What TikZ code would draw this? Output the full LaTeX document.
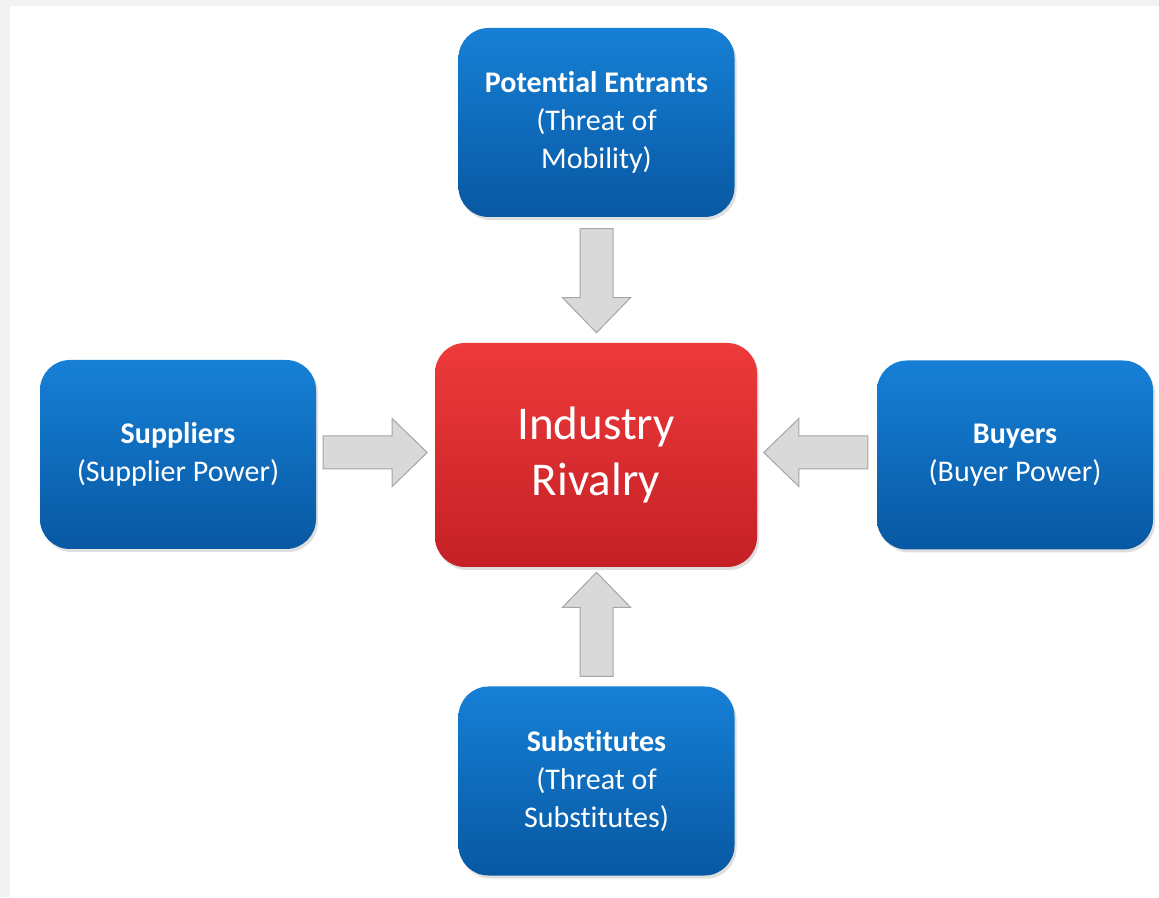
\documentclass[tikz,border=0pt]{standalone}
\usepackage{fontspec}
\setmainfont{Carlito}[Ligatures=NoCommon]
\usetikzlibrary{shadows,calc}
\definecolor{bluetop}{RGB}{22,128,214}
\definecolor{bluebot}{RGB}{8,88,162}
\definecolor{redtop}{RGB}{238,58,58}
\definecolor{redbot}{RGB}{196,32,38}
\definecolor{arrfill}{RGB}{217,217,217}
\definecolor{arrdraw}{RGB}{166,166,166}
\definecolor{bggray}{RGB}{242,242,242}
\tikzset{
  bluebox/.style={rounded corners=30pt, minimum width=276pt, minimum height=189pt,
    top color=bluetop, bottom color=bluebot, text=white, align=center,
    font=\fontsize{30}{38}\selectfont,
    drop shadow={opacity=0.25, shadow xshift=2pt, shadow yshift=-3pt}},
  redbox/.style={rounded corners=30pt, minimum width=322pt, minimum height=224pt,
    top color=redtop, bottom color=redbot, text=white, align=center,
    font=\fontsize{47}{56}\selectfont,
    drop shadow={opacity=0.25, shadow xshift=2pt, shadow yshift=-3pt}},
  garrow/.style={fill=arrfill, draw=arrdraw, line width=1pt, line join=miter},
  barrow/.pic={\draw[garrow] (0,-16.5) -- (69,-16.5) -- (69,-34) -- (104,0) -- (69,34) -- (69,16.5) -- (0,16.5) -- cycle;}
}
\begin{document}
\begin{tikzpicture}[x=1pt,y=1pt]
\useasboundingbox (0,0) rectangle (1159,897);
\fill[bggray] (0,0) rectangle (1159,897);
\fill[white] (10,0) rectangle (1159,891);

\node[redbox] (ir) at (596,442) {Industry\\Rivalry};
\node[bluebox] (pe) at (596.5,774.5) {\textbf{Potential Entrants}\\(Threat of\\Mobility)};
\node[bluebox] (sub) at (596.5,116) {\textbf{Substitutes}\\(Threat of\\Substitutes)};
\node[bluebox] (sup) at (178,442.5) {\textbf{Suppliers}\\(Supplier Power)};
\node[bluebox] (buy) at (1015,442) {\textbf{Buyers}\\(Buyer Power)};

\coordinate (pes) at ($(pe.south)+(0,-11.5)$);
\coordinate (subn) at ($(sub.north)+(0,10)$);
\coordinate (supe) at ($(sup.east)+(7,2)$);
\coordinate (buyw) at ($(buy.west)+(-9,2.5)$);

\pic[rotate=-90] at (pes) {barrow};
\pic[rotate=90] at (subn) {barrow};
\pic at (supe) {barrow};
\pic[rotate=180] at (buyw) {barrow};
\end{tikzpicture}
\end{document}
